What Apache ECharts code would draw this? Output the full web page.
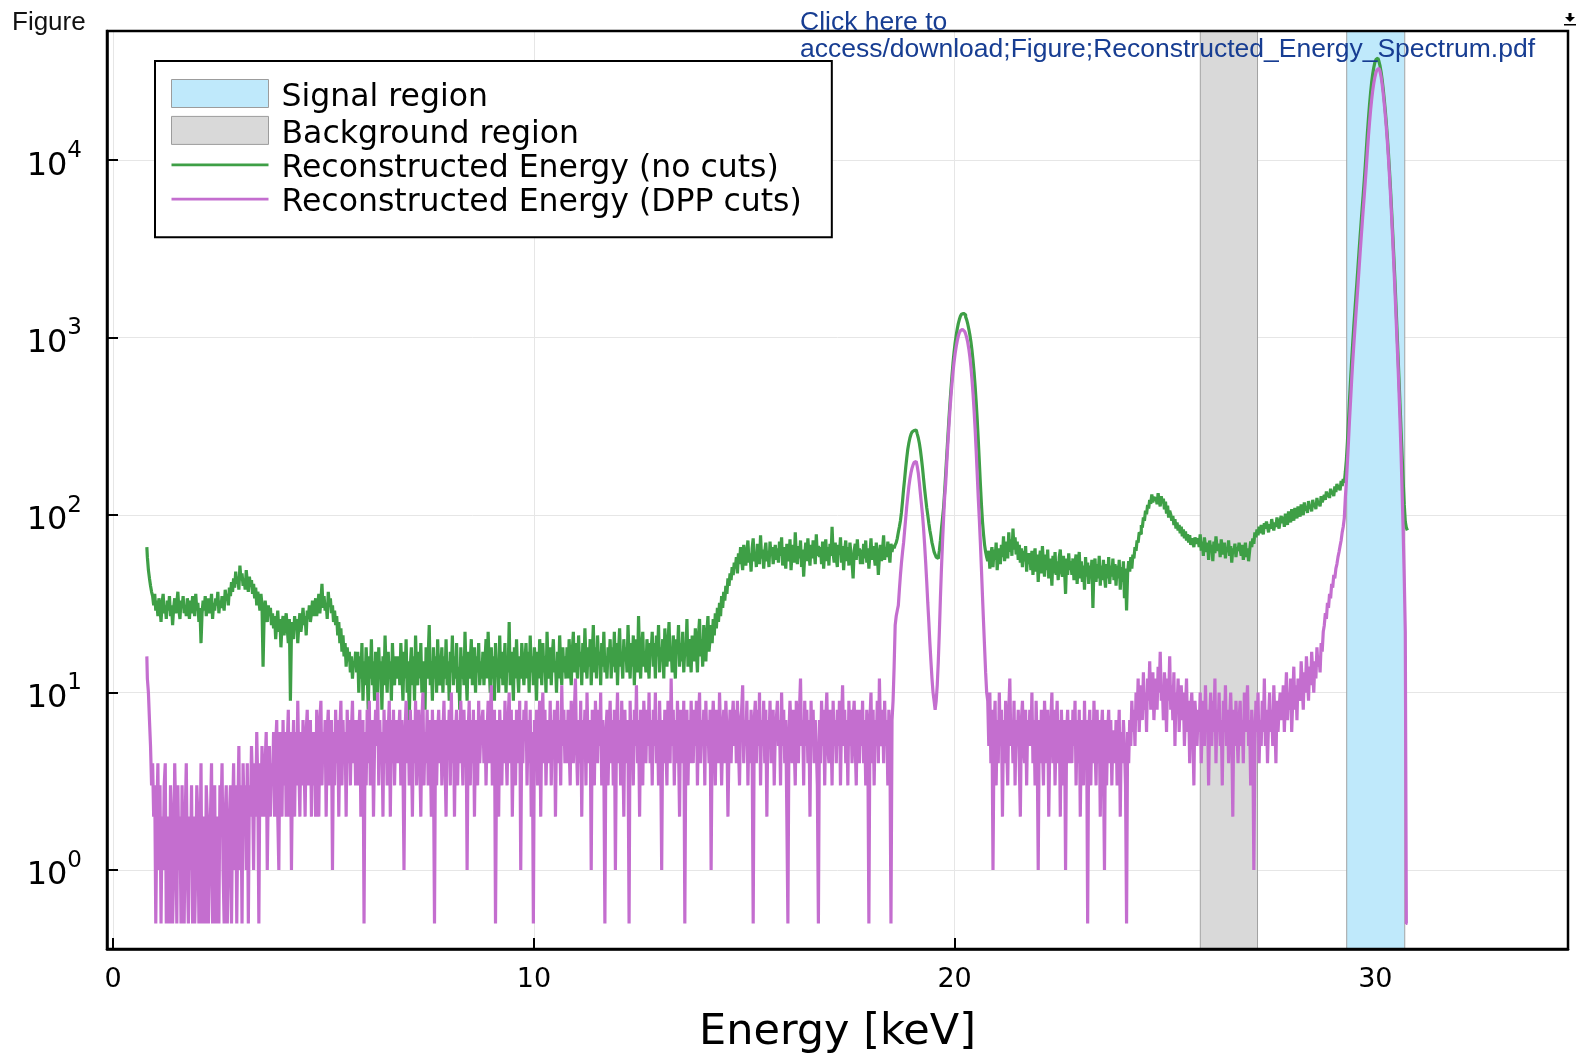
<!DOCTYPE html>
<html>
<head>
<meta charset="utf-8">
<script src="https://cdn.jsdelivr.net/npm/echarts@6/dist/echarts.min.js"></script>
<style>
  html, body { margin: 0; padding: 0; background: #ffffff; }
  #chart { width: 1596px; height: 1057px; }
</style>
</head>
<body>
<div id="chart"></div>
<script>
// Histogram binning of the reconstructed energy (keV): first bin centre and bin width
const binStart = 0.800;
const binWidth = 0.025;

// Counts per bin, no cuts applied (one row per keV, 40 bins each)
const noCuts = [
  66, 58, 49, 44, 40, 37, 35, 31, 36, 29, 33, 27, 34, 30, 25, 32, 36, 28, 31, 26, 33, 29, 35, 27, 31, 24, 30, 34, 28, 32, 37, 29, 26, 33, 30, 35, 28, 31, 27, 34,
  30, 26, 33, 28, 35, 31, 27, 36, 29, 32, 25, 30, 19, 28, 33, 29, 35, 27, 31, 34, 28, 30, 36, 26, 32, 29, 34, 31, 37, 28, 33, 30, 35, 32, 29, 38, 33, 36, 31, 39,
  35, 42, 37, 44, 39, 48, 41, 45, 38, 52, 43, 47, 40, 44, 38, 49, 42, 37, 45, 40, 43, 36, 41, 34, 39, 31, 37, 33, 29, 36, 31, 14, 27, 33, 29, 25, 31, 27, 30, 24,
  28, 23, 27, 20, 25, 29, 22, 26, 18, 24, 27, 21, 25, 28, 23, 19, 26, 9, 22, 25, 20, 27, 23, 26, 19, 24, 28, 22, 25, 30, 24, 27, 21, 29, 26, 31, 25, 28, 33, 27,
  30, 34, 27, 31, 36, 28, 33, 41, 30, 35, 29, 32, 26, 37, 31, 34, 28, 31, 25, 29, 24, 27, 21, 25, 19, 23, 17, 21, 16, 19, 14, 18, 15, 17, 13, 16, 12, 15, 14, 17,
  13, 17, 10, 16, 12, 19, 9, 15, 11, 18, 13, 8, 16, 12, 20, 11, 15, 9, 17, 13, 10, 18, 12, 15, 8, 16, 11, 21, 13, 10, 17, 12, 15, 9, 19, 13, 11, 16, 12, 14,
  16, 11, 19, 13, 9, 17, 12, 20, 10, 15, 7, 14, 18, 11, 16, 9, 21, 13, 11, 17, 12, 19, 10, 15, 13, 8, 18, 12, 16, 24, 11, 15, 9, 18, 12, 16, 10, 20, 13, 11,
  14, 18, 10, 16, 12, 20, 11, 15, 9, 17, 13, 21, 11, 16, 12, 19, 10, 14, 8, 18, 12, 16, 11, 22, 13, 9, 17, 12, 15, 20, 11, 14, 18, 10, 16, 13, 19, 11, 15, 12,
  17, 11, 15, 20, 12, 22, 14, 10, 18, 12, 16, 9, 19, 13, 15, 10, 21, 12, 17, 11, 14, 19, 10, 16, 13, 25, 11, 17, 14, 9, 18, 12, 20, 13, 10, 16, 12, 19, 14, 11,
  15, 19, 12, 17, 10, 21, 13, 16, 11, 18, 14, 9, 17, 12, 20, 15, 11, 19, 13, 16, 10, 22, 14, 12, 18, 11, 16, 20, 13, 15, 10, 17, 12, 21, 14, 11, 18, 13, 16, 12,
  18, 12, 20, 14, 11, 17, 22, 13, 19, 15, 12, 21, 14, 17, 11, 19, 13, 23, 15, 12, 18, 14, 20, 11, 16, 24, 13, 18, 12, 21, 15, 17, 11, 19, 14, 22, 13, 16, 12, 18,
  15, 20, 12, 18, 14, 22, 13, 19, 11, 17, 23, 14, 16, 12, 20, 15, 18, 13, 24, 16, 12, 19, 14, 21, 11, 17, 20, 13, 27, 16, 12, 18, 22, 14, 17, 13, 20, 15, 12, 19,
  17, 22, 14, 19, 12, 21, 16, 24, 13, 18, 15, 20, 12, 23, 17, 14, 19, 25, 15, 18, 13, 21, 16, 12, 20, 17, 24, 14, 19, 15, 22, 13, 18, 16, 26, 14, 20, 17, 13, 21,
  19, 15, 23, 17, 13, 21, 26, 16, 20, 14, 24, 18, 15, 22, 27, 17, 20, 24, 19, 26, 21, 28, 23, 30, 25, 32, 27, 35, 30, 37, 33, 40, 36, 44, 40, 47, 43, 51, 46, 54,
  50, 58, 47, 61, 53, 66, 56, 49, 68, 57, 52, 63, 72, 54, 61, 48, 65, 74, 55, 62, 51, 69, 58, 53, 77, 57, 64, 50, 62, 70, 55, 63, 51, 71, 59, 66, 53, 60, 68, 56,
  65, 54, 71, 59, 75, 52, 66, 58, 50, 69, 61, 55, 73, 49, 62, 68, 54, 80, 60, 53, 67, 57, 72, 51, 64, 45, 60, 70, 55, 74, 61, 52, 68, 57, 72, 63, 53, 78, 59, 67,
  58, 66, 53, 71, 50, 63, 73, 55, 66, 52, 69, 59, 86, 61, 54, 70, 57, 51, 68, 60, 75, 54, 67, 49, 63, 72, 55, 66, 52, 70, 60, 54, 44, 63, 69, 56, 73, 59, 65, 53,
  64, 53, 69, 57, 72, 54, 65, 50, 60, 74, 56, 67, 59, 52, 70, 61, 46, 58, 68, 55, 64, 77, 56, 66, 58, 71, 61, 54, 69, 62, 68, 65, 68, 70, 74, 80, 86, 93, 104, 120,
  140, 160, 185, 210, 235, 255, 272, 285, 294, 300, 303, 302, 296, 286, 272, 254, 232, 208, 184, 160, 140, 124, 110, 100, 90, 82, 76, 70, 66, 62, 60, 58, 57, 58, 63, 72, 84, 96, 110, 135,
  170, 215, 270, 340, 420, 510, 610, 720, 830, 935, 1030, 1120, 1200, 1265, 1320, 1355, 1370, 1365, 1345, 1310, 1260, 1195, 1120, 1040, 950, 850, 745, 640, 535, 435, 345, 265, 200, 150, 115, 92, 78, 68, 62, 58,
  55, 63, 50, 60, 66, 51, 64, 56, 70, 49, 61, 65, 53, 68, 58, 76, 55, 66, 71, 57, 80, 62, 73, 59, 84, 64, 75, 60, 71, 56, 68, 54, 65, 51, 63, 55, 67, 48, 61, 53,
  61, 49, 63, 46, 58, 65, 48, 60, 42, 56, 63, 47, 67, 53, 45, 60, 49, 64, 44, 57, 52, 40, 59, 47, 62, 46, 55, 43, 58, 64, 48, 45, 59, 50, 36, 57, 46, 61, 49, 55,
  46, 57, 43, 54, 60, 41, 53, 62, 44, 55, 42, 52, 38, 58, 45, 54, 41, 52, 44, 56, 30, 51, 57, 42, 53, 44, 59, 40, 52, 43, 56, 45, 39, 53, 44, 58, 41, 52, 45, 57,
  43, 53, 40, 52, 44, 56, 38, 51, 42, 55, 34, 50, 29, 47, 55, 48, 58, 50, 60, 57, 66, 63, 72, 70, 80, 78, 88, 85, 97, 93, 106, 101, 114, 109, 122, 116, 131, 118, 127, 121,
  126, 115, 133, 120, 112, 128, 117, 124, 108, 119, 102, 113, 97, 106, 101, 93, 99, 88, 95, 84, 91, 82, 88, 79, 86, 76, 83, 74, 81, 72, 78, 70, 77, 68, 74, 71, 66, 75, 69, 72,
  74, 66, 78, 63, 71, 59, 75, 67, 62, 70, 56, 72, 64, 68, 55, 71, 61, 76, 66, 63, 69, 58, 73, 64, 60, 70, 57, 66, 62, 72, 59, 67, 54, 65, 61, 69, 58, 66, 63, 70,
  64, 59, 68, 56, 62, 70, 58, 65, 55, 63, 71, 66, 74, 69, 80, 75, 83, 77, 86, 79, 88, 82, 78, 90, 84, 92, 86, 80, 89, 84, 95, 87, 82, 91, 86, 97, 89, 84, 93, 99,
  90, 98, 86, 102, 94, 88, 105, 97, 91, 108, 99, 93, 110, 102, 96, 112, 104, 98, 115, 107, 100, 118, 106, 112, 103, 120, 109, 114, 105, 122, 111, 117, 108, 125, 114, 119, 112, 128, 118, 124,
  130, 122, 136, 127, 133, 125, 141, 131, 137, 128, 145, 135, 150, 140, 147, 138, 156, 146, 160, 152, 175, 205, 260, 340, 450, 580, 740, 930, 1150, 1400, 1700, 2050, 2500, 3050, 3700, 4450, 5350, 6400, 7700, 9400,
  11600, 14300, 17300, 20600, 24000, 27400, 30500, 33200, 35400, 36900, 37600, 37300, 36000, 34000, 31400, 28400, 25200, 22000, 19000, 16100, 13400, 10900, 8700, 6800, 5200, 3950, 2950, 2200, 1600, 1150, 820, 590, 420, 300, 215, 155, 115, 92, 85, 82
];

// Counts per bin after the DPP cuts (empty bins shown at 0.5 on the log axis)
const dppCuts = [
  16, 12, 10, 7, 5, 3, 4, 2, 3, 0.5, 2, 4, 1, 3, 0.5, 2, 1, 3, 4, 0.5, 2, 1, 0.5, 3, 2, 0.5, 1, 4, 2, 0.5, 3, 1, 2, 0.5, 3, 1, 0.5, 2, 4, 1,
  0.5, 2, 1, 3, 0.5, 2, 0.5, 1, 3, 2, 0.5, 1, 4, 0.5, 2, 1, 0.5, 3, 2, 0.5, 1, 2, 4, 0.5, 1, 3, 0.5, 2, 1, 0.5, 3, 2, 4, 1, 0.5, 2, 3, 0.5, 1, 2,
  3, 0.5, 2, 4, 1, 3, 0.5, 2, 5, 1, 3, 0.5, 4, 2, 3, 1, 4, 0.5, 3, 2, 5, 3, 1, 4, 2, 6, 3, 0.5, 4, 2, 5, 3, 2, 4, 6, 1, 3, 5, 2, 4,
  3, 6, 2, 5, 7, 2, 1, 6, 4, 2, 7, 3, 6, 2, 5, 8, 2, 6, 1, 4, 7, 2, 6, 3, 9, 4, 2, 6, 3, 7, 4, 2, 6, 8, 3, 5, 7, 2, 6, 3,
  6, 2, 8, 4, 2, 7, 9, 3, 6, 4, 7, 2, 6, 8, 3, 5, 7, 1, 6, 3, 8, 4, 7, 2, 6, 9, 3, 7, 4, 6, 2, 8, 4, 7, 3, 6, 9, 4, 7, 3,
  7, 3, 6, 8, 2, 5, 7, 0.5, 6, 3, 8, 4, 9, 3, 6, 7, 2, 5, 8, 5, 10, 3, 7, 4, 6, 2, 8, 4, 7, 3, 6, 9, 2, 7, 4, 8, 3, 6, 7, 4,
  6, 8, 3, 7, 4, 1, 6, 9, 4, 7, 3, 8, 5, 2, 7, 4, 9, 3, 6, 8, 4, 2, 7, 10, 3, 6, 4, 8, 3, 7, 5, 2, 8, 4, 0.5, 7, 3, 6, 8, 4,
  7, 3, 6, 9, 4, 2, 7, 5, 8, 3, 10, 4, 7, 2, 6, 8, 3, 7, 4, 9, 5, 3, 8, 4, 7, 1, 6, 9, 3, 7, 4, 8, 2, 6, 7, 3, 9, 4, 6, 7,
  8, 4, 7, 3, 6, 9, 4, 7, 11, 3, 6, 8, 0.5, 4, 7, 2, 8, 5, 3, 7, 4, 9, 5, 3, 7, 10, 4, 8, 2, 6, 7, 3, 8, 5, 4, 9, 1, 7, 4, 8,
  6, 9, 3, 7, 4, 8, 2, 6, 0.5, 7, 4, 8, 3, 6, 9, 2, 7, 10, 4, 8, 3, 6, 7, 4, 9, 3, 7, 5, 8, 2, 6, 9, 4, 7, 3, 11, 5, 8, 4, 7,
  4, 8, 5, 3, 9, 6, 4, 8, 12, 5, 3, 7, 4, 9, 2, 7, 5, 8, 3, 10, 5, 4, 7, 1, 8, 5, 3, 9, 6, 4, 8, 5, 10, 3, 7, 4, 0.5, 6, 8, 3,
  6, 9, 4, 7, 3, 8, 1, 6, 10, 4, 7, 3, 9, 5, 2, 8, 4, 7, 5, 0.5, 9, 4, 7, 3, 8, 5, 11, 4, 7, 2, 8, 5, 3, 9, 6, 4, 8, 5, 10, 4,
  7, 3, 8, 5, 10, 4, 7, 3, 9, 5, 1, 7, 4, 8, 5, 3, 9, 6, 4, 12, 5, 8, 3, 7, 4, 9, 5, 2, 8, 6, 4, 9, 0.5, 6, 8, 3, 7, 4, 9, 5,
  4, 8, 5, 9, 3, 7, 10, 4, 7, 5, 8, 3, 9, 5, 7, 4, 8, 1, 6, 9, 6, 3, 8, 5, 4, 10, 6, 3, 6, 8, 4, 9, 6, 2, 5, 8, 4, 7, 9, 5,
  8, 4, 9, 5, 3, 7, 8, 11, 4, 7, 5, 9, 3, 7, 4, 8, 5, 0.5, 7, 9, 4, 8, 5, 10, 3, 7, 5, 9, 4, 8, 2, 7, 5, 9, 4, 7, 8, 3, 6, 7,
  9, 5, 7, 3, 10, 5, 8, 4, 7, 2, 0.5, 6, 9, 6, 4, 8, 5, 3, 9, 6, 4, 8, 12, 5, 7, 3, 9, 5, 8, 4, 7, 2, 9, 5, 8, 4, 7, 5, 3, 0.5,
  7, 4, 9, 5, 8, 3, 7, 10, 5, 4, 8, 6, 3, 9, 5, 7, 4, 8, 5, 9, 3, 7, 11, 5, 8, 4, 7, 3, 9, 5, 8, 4, 7, 9, 5, 3, 8, 6, 4, 8,
  5, 9, 4, 7, 3, 8, 5, 0.5, 7, 10, 4, 8, 3, 7, 5, 9, 4, 12, 6, 5, 8, 4, 9, 5, 7, 3, 8, 5, 0.5, 7, 9, 14, 24, 27, 29, 31, 38, 46, 54, 62,
  70, 82, 96, 112, 128, 145, 160, 173, 184, 192, 198, 201, 198, 188, 172, 152, 132, 115, 100, 84, 68, 54, 42, 32, 25, 19, 15, 12, 10, 9, 8, 9, 11, 15, 22, 34, 50, 70, 95, 125,
  150, 195, 248, 310, 385, 465, 550, 640, 730, 815, 890, 960, 1020, 1065, 1095, 1112, 1115, 1105, 1085, 1050, 1000, 940, 865, 780, 685, 585, 485, 390, 305, 230, 170, 125, 95, 70, 50, 35, 25, 18, 13, 10,
  9, 5, 10, 4, 8, 1, 6, 9, 3, 7, 4, 10, 5, 8, 2, 7, 4, 9, 5, 3, 8, 12, 5, 7, 4, 9, 3, 7, 5, 8, 4, 2, 7, 9, 5, 4, 8, 3, 7, 5,
  8, 5, 10, 4, 7, 3, 9, 5, 1, 7, 4, 8, 5, 3, 9, 6, 4, 8, 2, 5, 7, 10, 4, 8, 3, 6, 9, 4, 7, 2, 8, 5, 3, 7, 1, 6, 8, 4, 7, 5,
  4, 8, 5, 9, 3, 7, 4, 8, 2, 6, 7, 3, 9, 4, 7, 0.5, 6, 8, 3, 7, 4, 9, 5, 3, 8, 4, 7, 2, 6, 8, 4, 1, 7, 3, 6, 8, 4, 7, 3, 6,
  6, 4, 7, 3, 5, 8, 2, 6, 4, 7, 5, 3, 0.5, 6, 4, 7, 5, 9, 6, 8, 5, 10, 7, 12, 6, 9, 11, 7, 13, 8, 10, 6, 12, 9, 15, 8, 11, 13, 7, 10,
  12, 8, 14, 10, 17, 9, 11, 7, 13, 10, 6, 12, 9, 16, 8, 11, 7, 13, 5, 10, 8, 12, 6, 9, 11, 7, 10, 5, 8, 12, 6, 9, 4, 8, 10, 6, 3, 9, 7, 5,
  8, 6, 10, 4, 7, 9, 5, 11, 6, 8, 3, 7, 10, 5, 9, 6, 12, 4, 8, 6, 10, 5, 7, 3, 9, 6, 11, 5, 8, 4, 7, 10, 6, 2, 8, 5, 9, 6, 4, 7,
  9, 5, 7, 4, 10, 6, 8, 11, 5, 7, 3, 8, 6, 1, 5, 9, 6, 10, 4, 7, 5, 9, 6, 12, 5, 8, 4, 7, 10, 6, 8, 5, 11, 7, 4, 9, 6, 8, 10, 7,
  8, 11, 6, 9, 13, 7, 10, 8, 12, 6, 9, 14, 8, 11, 7, 12, 10, 9, 15, 11, 8, 13, 10, 16, 12, 9, 14, 11, 17, 13, 10, 15, 12, 18, 14, 16, 13, 19, 17, 22,
  24, 28, 26, 32, 30, 36, 34, 41, 39, 46, 44, 50, 53, 58, 62, 67, 72, 80, 86, 96, 125, 155, 200, 260, 345, 445, 575, 725, 900, 1100, 1340, 1620, 1970, 2420, 2970, 3620, 4370, 5270, 6320, 7620,
  9200, 11300, 13700, 16300, 19100, 21900, 24600, 27100, 29200, 31000, 32300, 33000, 32800, 31600, 29500, 26800, 23800, 20800, 17900, 15200, 12600, 10200, 8100, 6300, 4800, 3600, 2650, 1950, 1400, 1000, 720, 500, 340, 220, 135, 80, 45, 22, 0.5, 0.5
];

// Energy windows (keV)
const signalRegion = [29.32, 30.70];
const backgroundRegion = [25.84, 27.20];

// Axis ticks
const xTicks = [0, 10, 20, 30];

const seriesNames = [
  'Signal region',
  'Background region',
  'Reconstructed Energy (no cuts)',
  'Reconstructed Energy (DPP cuts)'
];

const FONT = 'DejaVu Sans';
const LINK_FONT = '"Liberation Sans", Arial, sans-serif';
const GREEN = '#3e9f46';
const ORCHID = '#c46ecf';
const SIGNAL_FILL = '#bfe9fb';
const BACKGROUND_FILL = '#d9d9d9';
const LINE_ICON = 'path://M0,0H100V2.8H0Z';

function toPairs(counts) {
  return counts.map((c, i) => [+(binStart + i * binWidth).toFixed(4), c]);
}

function powerLabel(v) {
  const e = Math.log10(v);
  const r = Math.round(e);
  if (Math.abs(e - r) > 1e-6) return '';
  return '{b|10}{s|' + r + '}';
}

const chart = echarts.init(document.getElementById('chart'), null, { renderer: 'canvas' });

chart.setOption({
  animation: false,
  backgroundColor: '#ffffff',
  grid: {
    left: 107, top: 31, right: 28, bottom: 108,
    outerBoundsMode: 'none',
    containLabel: false,
    show: true, z: 10,
    backgroundColor: 'transparent',
    borderColor: '#000', borderWidth: 2.5
  },
  xAxis: {
    type: 'value',
    min: -0.147, max: 34.58,
    axisLine: { show: true, onZero: false, lineStyle: { color: '#000', width: 2.5 } },
    axisTick: { show: true, inside: true, length: 11, customValues: xTicks,
                lineStyle: { color: '#000', width: 2 } },
    axisLabel: { customValues: xTicks, fontFamily: FONT, fontSize: 27, color: '#000', margin: 17 },
    splitLine: { show: true, lineStyle: { color: '#e6e6e6', width: 1 } },
    name: 'Energy [keV]',
    nameLocation: 'middle',
    nameGap: 62,
    nameTextStyle: { fontFamily: FONT, fontSize: 43, color: '#000' }
  },
  yAxis: {
    type: 'log', logBase: 10,
    min: 0.359, max: 53500,
    axisLine: { show: true, onZero: false, lineStyle: { color: '#000', width: 2.5 } },
    axisTick: { show: true, inside: true, length: 11, lineStyle: { color: '#000', width: 2 } },
    axisLabel: {
      margin: 25,
      formatter: powerLabel,
      rich: {
        b: { fontFamily: FONT, fontSize: 32, lineHeight: 32, color: '#000', padding: [12, 0, 0, 0] },
        s: { fontFamily: FONT, fontSize: 23, lineHeight: 23, color: '#000', padding: [0, 0, 19, 0] }
      }
    },
    splitLine: { show: true, lineStyle: { color: '#e6e6e6', width: 1 } }
  },
  legend: {
    orient: 'vertical',
    left: 155, top: 61,
    padding: [18, 30, 18, 16],
    backgroundColor: '#ffffff',
    borderColor: '#000', borderWidth: 2, borderRadius: 0,
    itemWidth: 97, itemHeight: 28, itemGap: 2.4,
    symbolKeepAspect: true,
    selectedMode: false,
    z: 20,
    formatter: name => '{t|' + name + '}',
    textStyle: {
      fontFamily: FONT, fontSize: 31.5, color: '#000',
      rich: { t: { fontFamily: FONT, fontSize: 31.5, color: '#000', padding: [8, 0, 0, 8] } }
    },
    data: [
      { name: seriesNames[0], icon: 'rect',
        itemStyle: { color: SIGNAL_FILL, borderColor: '#9c9c9c', borderWidth: 1 } },
      { name: seriesNames[1], icon: 'rect',
        itemStyle: { color: BACKGROUND_FILL, borderColor: '#9c9c9c', borderWidth: 1 } },
      { name: seriesNames[2], icon: LINE_ICON, itemStyle: { color: GREEN, borderWidth: 0 } },
      { name: seriesNames[3], icon: LINE_ICON, itemStyle: { color: ORCHID, borderWidth: 0 } }
    ]
  },
  series: [
    {
      name: seriesNames[0], type: 'line', data: [], z: 1,
      itemStyle: { color: SIGNAL_FILL },
      markArea: {
        silent: true,
        itemStyle: { color: SIGNAL_FILL, borderColor: '#a3a3a3', borderWidth: 1 },
        data: [[{ xAxis: signalRegion[0] }, { xAxis: signalRegion[1] }]]
      }
    },
    {
      name: seriesNames[1], type: 'line', data: [], z: 1,
      itemStyle: { color: BACKGROUND_FILL },
      markArea: {
        silent: true,
        itemStyle: { color: BACKGROUND_FILL, borderColor: '#a3a3a3', borderWidth: 1 },
        data: [[{ xAxis: backgroundRegion[0] }, { xAxis: backgroundRegion[1] }]]
      }
    },
    {
      name: seriesNames[2], type: 'line', step: 'middle', symbol: 'none', z: 3,
      data: toPairs(noCuts),
      itemStyle: { color: GREEN },
      lineStyle: { color: GREEN, width: 3.2 }
    },
    {
      name: seriesNames[3], type: 'line', step: 'middle', symbol: 'none', z: 4,
      data: toPairs(dppCuts),
      itemStyle: { color: ORCHID },
      lineStyle: { color: ORCHID, width: 3.2 }
    }
  ],
  graphic: [
    { type: 'text', z: 100, style: { text: 'Figure', x: 12, y: 23, verticalAlign: 'middle',
      font: '26px ' + LINK_FONT, fill: '#111' } },
    { type: 'text', z: 100, style: { text: 'Click here to', x: 800, y: 23, verticalAlign: 'middle',
      font: '26.5px ' + LINK_FONT, fill: '#173d92' } },
    { type: 'text', z: 100, style: { text: 'access/download;Figure;Reconstructed_Energy_Spectrum.pdf', x: 800, y: 50,
      verticalAlign: 'middle', font: '26.5px ' + LINK_FONT, fill: '#173d92' } },
    { type: 'rect', z: 100, shape: { x: 1568.5, y: 13, width: 3, height: 5 }, style: { fill: '#000' } },
    { type: 'polygon', z: 100, shape: { points: [[1565, 17], [1575, 17], [1570, 22]] }, style: { fill: '#000' } },
    { type: 'rect', z: 100, shape: { x: 1564, y: 24, width: 12, height: 1.5 }, style: { fill: '#000' } }
  ]
});
</script>
</body>
</html>
